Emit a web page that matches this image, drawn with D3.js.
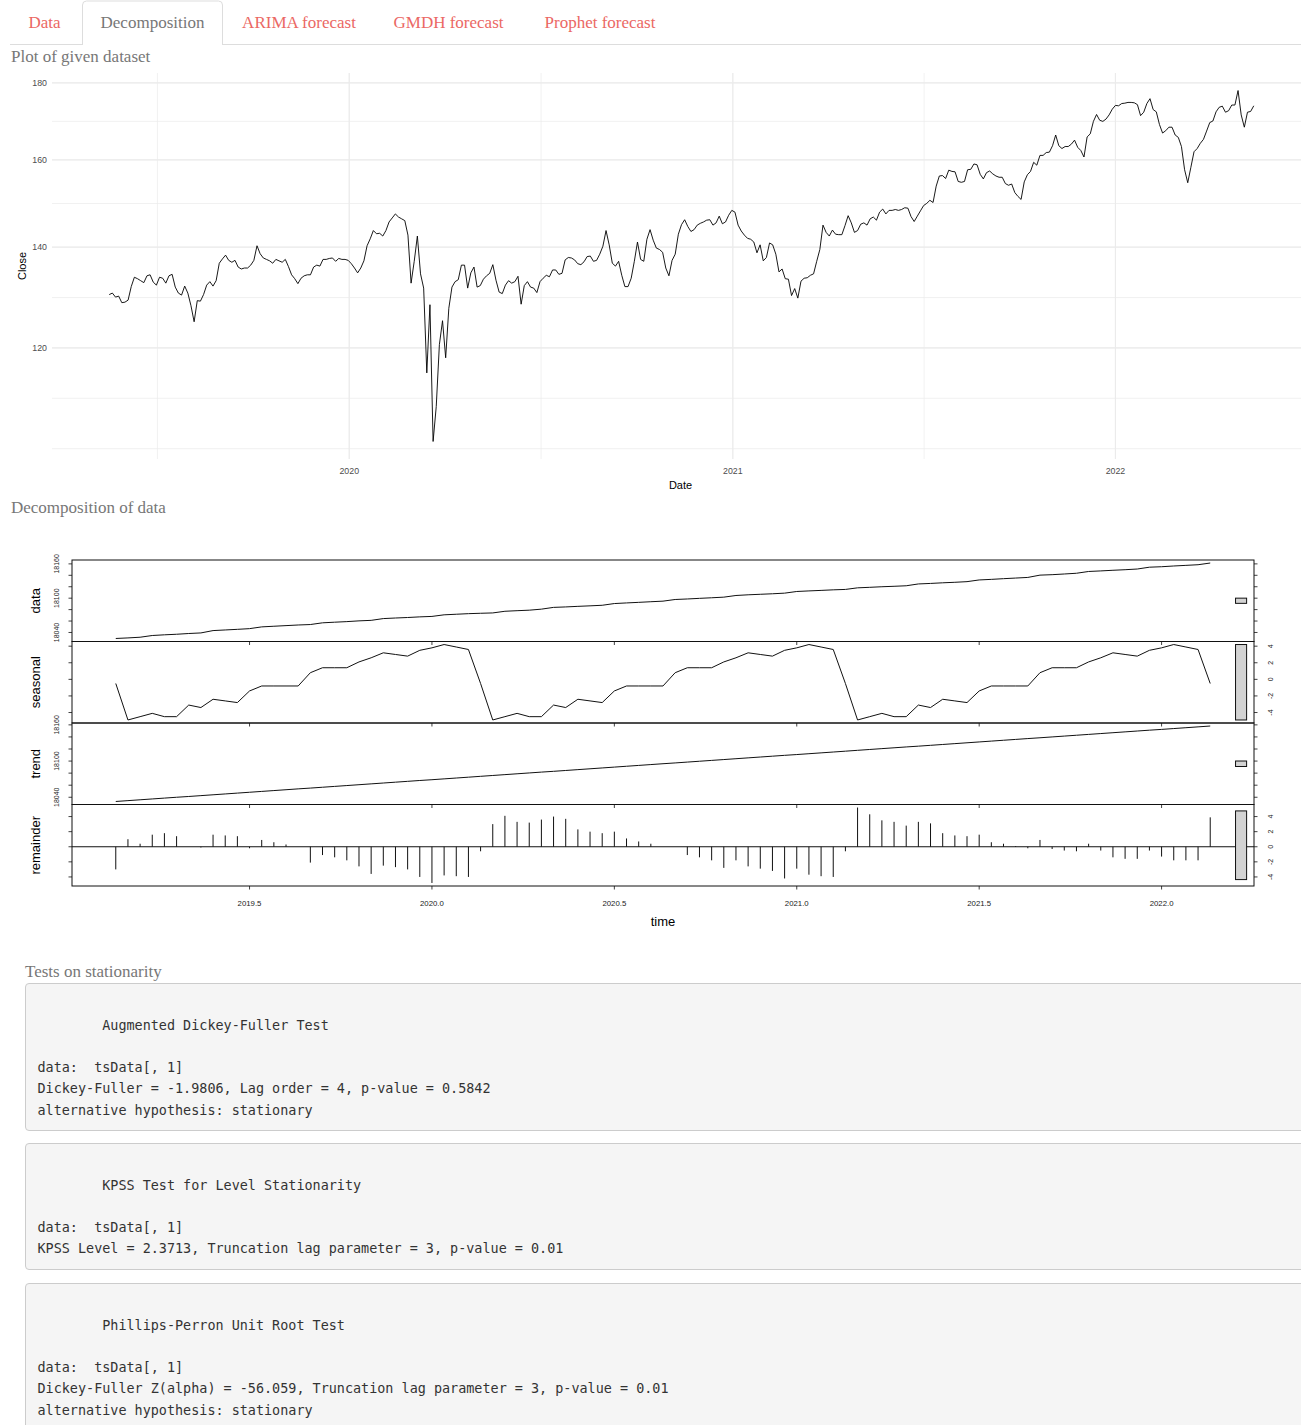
<!DOCTYPE html>
<html>
<head>
<meta charset="utf-8">
<script src="https://cdn.jsdelivr.net/npm/d3@7"></script>
<style>
  html,body{margin:0;padding:0;background:#fff;}
  body{width:1301px;height:1425px;overflow:hidden;position:relative;font-family:"Liberation Serif",serif;}
  #page{position:absolute;left:0;top:0;}
  pre{position:absolute;left:25px;width:1320px;margin:0;box-sizing:border-box;
      background:#f5f5f5;border:1px solid #cccccc;border-radius:4px;
      padding:9.5px 11.5px;font-family:"DejaVu Sans Mono",monospace;font-size:13.45px;
      line-height:21.2px;color:#333;white-space:pre;overflow:hidden;}
</style>
</head>
<body>
<svg id="page" width="1301" height="1425"></svg>
<pre id="pre1" style="top:983px"></pre>
<pre id="pre2" style="top:1143px"></pre>
<pre id="pre3" style="top:1283px"></pre>
<script>
// ---------------- DATA ----------------
const tabLabels = ["Data", "Decomposition", "ARIMA forecast", "GMDH forecast", "Prophet forecast"];
const activeTab = "Decomposition";
const headings = ["Plot of given dataset", "Decomposition of data", "Tests on stationarity"];

// daily close, sampled every 3 calendar days from the start date
const closeStart = "2019-05-17";
const closeStepDays = 3;
const closeValues = [
130.2,130.5,129.7,129.9,128.6,128.7,129.1,131.8,133.7,133.4,
133.0,132.6,134.0,134.2,132.7,132.1,133.7,133.5,132.5,134.0,
134.3,131.7,130.5,130.1,131.9,130.5,128.0,124.9,129.0,128.9,
130.2,132.1,132.8,131.9,133.0,136.6,137.5,138.3,137.2,136.8,
137.2,135.8,135.4,135.6,135.6,136.2,137.2,140.3,138.6,137.7,
137.4,137.1,136.6,137.4,137.1,136.8,137.4,135.9,134.2,133.4,
132.4,133.5,134.0,134.2,134.2,135.8,136.2,136.0,137.4,137.4,
137.6,137.7,137.0,137.6,137.4,137.4,137.2,136.5,135.6,134.6,
135.6,137.1,140.3,141.8,143.6,142.9,143.0,142.4,143.6,145.5,
146.4,147.3,146.6,146.2,145.8,142.6,132.5,137.0,142.4,134.4,
131.5,115.5,128.2,104.0,109.7,120.6,125.1,118.2,127.5,131.7,
132.8,133.2,136.2,136.2,131.5,134.6,135.8,131.7,132.0,133.3,
134.0,134.5,136.3,133.1,130.7,130.4,132.1,133.0,132.5,132.8,
133.9,128.3,132.0,132.8,131.7,131.5,130.6,132.8,133.5,134.1,
133.8,135.2,135.2,134.3,134.5,137.3,137.8,137.7,137.3,136.5,
136.3,136.9,138.0,138.1,137.0,137.2,138.5,140.2,143.6,140.5,
136.6,136.0,137.0,134.1,131.8,131.8,133.5,137.0,141.1,137.4,
137.0,141.7,143.8,141.5,139.8,139.5,138.9,135.6,134.0,137.2,
138.5,142.8,144.9,146.0,144.5,143.4,143.8,144.8,145.2,145.5,
145.9,146.0,144.8,145.3,146.8,145.1,145.5,147.0,148.1,147.7,
144.8,143.5,142.6,141.9,141.7,141.1,138.8,140.5,137.1,137.8,
140.9,140.5,138.5,134.8,135.4,133.4,133.3,130.0,131.4,129.5,
132.9,133.5,133.6,134.1,134.4,137.0,139.5,144.8,143.2,142.4,
143.7,142.8,142.7,142.7,144.7,146.9,145.3,143.2,143.6,145.0,
145.3,144.8,146.2,146.6,145.9,147.7,148.4,147.3,148.1,148.1,
148.3,148.1,148.3,148.7,148.6,146.7,145.6,146.8,148.0,149.2,
149.7,150.4,149.9,153.7,156.1,156.2,155.5,157.5,157.2,157.1,
154.8,154.6,154.8,157.6,157.7,159.0,158.8,156.5,155.4,156.9,
157.3,156.6,156.1,155.8,155.8,154.3,153.9,154.2,152.2,151.3,
150.6,154.7,156.4,157.2,159.4,158.7,161.1,161.1,161.8,161.9,
163.5,166.2,163.5,162.8,163.3,163.3,163.9,164.9,163.1,162.3,
160.7,165.7,166.5,169.7,171.5,170.0,169.7,170.3,171.4,172.9,
173.9,173.8,174.4,174.5,174.7,174.7,174.6,174.1,171.2,172.1,
174.4,175.7,172.8,172.2,168.9,166.7,167.3,168.2,168.2,166.2,
165.6,163.3,157.6,154.5,158.2,162.0,162.8,164.1,165.1,167.2,
169.4,169.8,172.2,173.4,173.7,172.1,172.5,174.0,174.0,177.9,
171.4,168.2,172.1,172.3,173.8
];
const closeYTicks = [120, 140, 160, 180];
const closeXTicks = ["2020-01-01", "2021-01-01", "2022-01-01"];
const closeXLabels = ["2020", "2021", "2022"];

// STL decomposition (frequency 30, start = (2019, 5))
const stlFrequency = 30;
const stlStartYear = 2019;
const stlStartCycle = 5;
const stlData = [
18029.5,18030.5,18031.7,18034.7,18035.9,18036.9,18038.2,18039.2,18043.3,18044.4,
18045.5,18046.7,18049.8,18050.9,18052.0,18053.1,18053.9,18056.9,18058.0,18059.0,
18060.3,18061.2,18064.3,18065.3,18066.2,18067.3,18068.1,18070.9,18071.9,18072.9,
18073.6,18074.2,18077.1,18078.1,18079.0,18080.8,18083.9,18084.7,18085.7,18086.6,
18087.6,18090.6,18091.7,18092.7,18093.8,18094.8,18097.7,18098.6,18099.7,18100.7,
18101.8,18104.7,18105.9,18106.8,18107.7,18108.8,18111.7,18112.7,18113.6,18114.6,
18115.3,18118.1,18119.0,18120.0,18120.8,18121.7,18124.9,18125.8,18126.9,18127.8,
18128.9,18131.9,18132.9,18134.1,18135.2,18136.3,18140.3,18141.1,18142.3,18143.6,
18146.7,18147.7,18148.8,18149.8,18151.0,18154.2,18155.0,18156.3,18157.4,18158.5,
18161.5
];
const stlSeasonal = [
-0.5,-4.9,-4.5,-4.1,-4.5,-4.5,-3.1,-3.4,-2.4,-2.6,-2.8,-1.4,-0.8,-0.8,-0.8,-0.8,0.8,1.4,1.4,1.4,2.1,2.6,3.2,3.0,2.8,3.5,3.8,4.2,3.9,3.6,
-0.5,-4.9,-4.5,-4.1,-4.5,-4.5,-3.1,-3.4,-2.4,-2.6,-2.8,-1.4,-0.8,-0.8,-0.8,-0.8,0.8,1.4,1.4,1.4,2.1,2.6,3.2,3.0,2.8,3.5,3.8,4.2,3.9,3.6,
-0.5,-4.9,-4.5,-4.1,-4.5,-4.5,-3.1,-3.4,-2.4,-2.6,-2.8,-1.4,-0.8,-0.8,-0.8,-0.8,0.8,1.4,1.4,1.4,2.1,2.6,3.2,3.0,2.8,3.5,3.8,4.2,3.9,3.6,
-0.5
];
const stlTrend = [
18033.0,18034.4,18035.8,18037.2,18038.6,18040.0,18041.3,18042.7,18044.1,18045.5,
18046.9,18048.3,18049.7,18051.1,18052.5,18053.9,18055.2,18056.6,18058.0,18059.4,
18060.8,18062.2,18063.6,18065.0,18066.4,18067.8,18069.1,18070.5,18071.9,18073.3,
18074.7,18076.1,18077.5,18078.9,18080.3,18081.7,18083.0,18084.4,18085.8,18087.2,
18088.6,18090.0,18091.4,18092.8,18094.2,18095.6,18096.9,18098.3,18099.7,18101.1,
18102.5,18103.9,18105.3,18106.7,18108.1,18109.5,18110.8,18112.2,18113.6,18115.0,
18116.4,18117.8,18119.2,18120.6,18122.0,18123.4,18124.7,18126.1,18127.5,18128.9,
18130.3,18131.7,18133.1,18134.5,18135.9,18137.3,18138.6,18140.0,18141.4,18142.8,
18144.2,18145.6,18147.0,18148.4,18149.8,18151.2,18152.5,18153.9,18155.3,18156.7,
18158.1
];
const stlRemainder = [
-3.0,1.0,0.4,1.6,1.8,1.4,0.0,-0.1,1.6,1.5,
1.4,-0.2,0.9,0.6,0.3,0.0,-2.1,-1.1,-1.4,-1.8,
-2.6,-3.6,-2.5,-2.7,-3.0,-4.0,-4.8,-3.8,-3.9,-4.0,
-0.6,3.0,4.1,3.3,3.2,3.6,4.0,3.7,2.3,2.0,
1.8,2.0,1.1,0.7,0.4,0.0,0.0,-1.1,-1.4,-1.8,
-2.8,-1.8,-2.6,-2.9,-3.2,-4.2,-2.9,-3.7,-3.9,-4.0,
-0.6,5.2,4.3,3.5,3.3,2.8,3.3,3.1,1.8,1.5,
1.4,1.6,0.6,0.4,0.1,-0.2,0.9,-0.3,-0.5,-0.6,
0.4,-0.5,-1.4,-1.6,-1.6,-0.5,-1.3,-1.8,-1.8,-1.8,
3.9
];
const stlPanelNames = ["data", "seasonal", "trend", "remainder"];
const stlLevelTicks = [18040, 18060, 18080, 18100, 18120, 18140, 18160];
const stlLevelTickLabels = [18040, 18100, 18160];
const stlSmallTicks = [-4, -2, 0, 2, 4];
const stlTimeTicks = [2019.5, 2020.0, 2020.5, 2021.0, 2021.5, 2022.0];

const testOutputs = [
"\n        Augmented Dickey-Fuller Test\n\ndata:  tsData[, 1]\nDickey-Fuller = -1.9806, Lag order = 4, p-value = 0.5842\nalternative hypothesis: stationary",
"\n        KPSS Test for Level Stationarity\n\ndata:  tsData[, 1]\nKPSS Level = 2.3713, Truncation lag parameter = 3, p-value = 0.01",
"\n        Phillips-Perron Unit Root Test\n\ndata:  tsData[, 1]\nDickey-Fuller Z(alpha) = -56.059, Truncation lag parameter = 3, p-value = 0.01\nalternative hypothesis: stationary"
];

// ---------------- PAGE CHROME ----------------
const svg = d3.select("#page");
const serif = '"Liberation Serif", serif';
const sans = '"Liberation Sans", Arial, sans-serif';

// tabs
const tabX = [13, 82.5, 227, 378, 526];
const tabW = [63, 140, 144, 141, 148];
svg.append("line").attr("x1", 10).attr("x2", 1301).attr("y1", 44.5).attr("y2", 44.5)
  .attr("stroke", "#dddddd").attr("stroke-width", 1);
tabLabels.forEach((t, i) => {
  const isActive = t === activeTab;
  if (isActive) {
    const x0 = tabX[i], x1 = tabX[i] + tabW[i], r = 4;
    svg.append("path")
      .attr("d", `M${x0},45 L${x0},${1 + r} Q${x0},1 ${x0 + r},1 L${x1 - r},1 Q${x1},1 ${x1},${1 + r} L${x1},45`)
      .attr("fill", "#fff").attr("stroke", "#dddddd").attr("stroke-width", 1);
    svg.append("rect").attr("x", x0 + 0.5).attr("y", 43).attr("width", tabW[i] - 1).attr("height", 3).attr("fill", "#fff");
  }
  svg.append("text").attr("x", tabX[i] + tabW[i] / 2).attr("y", 28).attr("text-anchor", "middle")
    .attr("font-family", serif).attr("font-size", 17)
    .attr("fill", isActive ? "#777777" : "#eb6864").text(t);
});

// headings
const headingPos = [[11, 62], [11, 513], [25, 977]];
headings.forEach((h, i) => {
  svg.append("text").attr("x", headingPos[i][0]).attr("y", headingPos[i][1])
    .attr("font-family", serif).attr("font-size", 17).attr("fill", "#777777").text(h);
});

// ---------------- TOP CHART (ggplot-like, log y) ----------------
const parse = d3.utcParse("%Y-%m-%d");
const t0 = parse(closeStart);
const closeData = closeValues.map((v, i) => ({ date: d3.utcDay.offset(t0, i * closeStepDays), value: v }));
const tExt = d3.extent(closeData, d => d.date);
const tSpan = tExt[1] - tExt[0];
const pLeft = 52, pRight = 1311, pTop = 73, pBottom = 459;
const x = d3.scaleUtc()
  .domain([new Date(+tExt[0] - 0.05 * tSpan), new Date(+tExt[1] + 0.05 * tSpan)])
  .range([pLeft, pRight]);
const vExt = d3.extent(closeValues);
const lr = Math.log(vExt[1] / vExt[0]);
const y = d3.scaleLog()
  .domain([vExt[0] * Math.exp(-0.05 * lr), vExt[1] * Math.exp(0.05 * lr)])
  .range([pBottom, pTop]);

const gTop = svg.append("g");
// minor y breaks (midpoints in log space, with one extended break each side)
const lm = closeYTicks.map(Math.log);
const stepLo = lm[1] - lm[0], stepHi = lm[lm.length - 1] - lm[lm.length - 2];
const lext = [lm[0] - stepLo, ...lm, lm[lm.length - 1] + stepHi];
let yMinor = [];
for (let i = 0; i < lext.length - 1; i++) { yMinor.push(lext[i], (lext[i] + lext[i + 1]) / 2); }
yMinor = yMinor.map(Math.exp).filter(v => v >= y.domain()[0] && v <= y.domain()[1]);
// minor x breaks
const xm = closeXTicks.map(s => +parse(s));
const xext = [xm[0] - (xm[1] - xm[0]), ...xm, xm[xm.length - 1] + (xm[xm.length - 1] - xm[xm.length - 2])];
let xMinor = [];
for (let i = 0; i < xext.length - 1; i++) { xMinor.push(xext[i], (xext[i] + xext[i + 1]) / 2); }
xMinor = xMinor.filter(v => v >= +x.domain()[0] && v <= +x.domain()[1]);

const gridCol = "#ebebeb";
gTop.selectAll(".ymin").data(yMinor).join("line")
  .attr("x1", pLeft).attr("x2", pRight).attr("y1", d => y(d)).attr("y2", d => y(d))
  .attr("stroke", gridCol).attr("stroke-width", 0.7);
gTop.selectAll(".xmin").data(xMinor).join("line")
  .attr("x1", d => x(new Date(d))).attr("x2", d => x(new Date(d))).attr("y1", pTop).attr("y2", pBottom)
  .attr("stroke", gridCol).attr("stroke-width", 0.7);
gTop.selectAll(".ymaj").data(closeYTicks).join("line")
  .attr("x1", pLeft).attr("x2", pRight).attr("y1", d => y(d)).attr("y2", d => y(d))
  .attr("stroke", gridCol).attr("stroke-width", 1.1);
gTop.selectAll(".xmaj").data(xm).join("line")
  .attr("x1", d => x(new Date(d))).attr("x2", d => x(new Date(d))).attr("y1", pTop).attr("y2", pBottom)
  .attr("stroke", gridCol).attr("stroke-width", 1.1);

gTop.append("path").datum(closeData)
  .attr("d", d3.line().x(d => x(d.date)).y(d => y(d.value)))
  .attr("fill", "none").attr("stroke", "#000").attr("stroke-width", 0.9).attr("stroke-linejoin", "round");

gTop.selectAll(".ylab").data(closeYTicks).join("text")
  .attr("x", 47).attr("y", d => y(d) + 3).attr("text-anchor", "end")
  .attr("font-family", sans).attr("font-size", 8.8).attr("fill", "#4d4d4d").text(d => d);
gTop.selectAll(".xlab").data(xm).join("text")
  .attr("x", d => x(new Date(d))).attr("y", 473.5).attr("text-anchor", "middle")
  .attr("font-family", sans).attr("font-size", 8.8).attr("fill", "#4d4d4d").text((d, i) => closeXLabels[i]);
gTop.append("text").attr("x", (pLeft + pRight) / 2 - 1).attr("y", 489).attr("text-anchor", "middle")
  .attr("font-family", sans).attr("font-size", 11).attr("fill", "#000").text("Date");
gTop.append("text").attr("transform", `translate(26,${(pTop + pBottom) / 2}) rotate(-90)`)
  .attr("text-anchor", "middle").attr("font-family", sans).attr("font-size", 11).attr("fill", "#000").text("Close");

// ---------------- STL PLOT (R base style) ----------------
const stlTime = stlData.map((_, i) => stlStartYear + (stlStartCycle - 1 + i) / stlFrequency);
const expand = ([a, b]) => { const r = b - a; return [a - 0.04 * r, b + 0.04 * r]; };
const L = 72, R = 1254, panelTop = 560, panelH = 81.5;
const tx = d3.scaleLinear().domain(expand(d3.extent(stlTime))).range([L, R]);
const series = [
  { values: stlData, type: "l", ticks: stlLevelTicks, labels: stlLevelTickLabels },
  { values: stlSeasonal, type: "l", ticks: stlSmallTicks, labels: stlSmallTicks },
  { values: stlTrend, type: "l", ticks: stlLevelTicks, labels: stlLevelTickLabels },
  { values: stlRemainder, type: "h", ticks: stlSmallTicks, labels: stlSmallTicks }
];
const mx = d3.min(series, s => d3.max(s.values) - d3.min(s.values));
const gS = svg.append("g");
const ink = "#111";
const tickLen = 3.5;
series.forEach((s, k) => {
  const top = panelTop + k * panelH, bot = top + panelH;
  const ys = d3.scaleLinear().domain(expand(d3.extent(s.values))).range([bot, top]);
  const pts = s.values.map((v, i) => [stlTime[i], v]);
  if (s.type === "l") {
    gS.append("path").datum(pts)
      .attr("d", d3.line().x(d => tx(d[0])).y(d => ys(d[1])))
      .attr("fill", "none").attr("stroke", ink).attr("stroke-width", 1);
  } else {
    gS.selectAll(null).data(pts).join("line")
      .attr("x1", d => tx(d[0])).attr("x2", d => tx(d[0]))
      .attr("y1", ys(0)).attr("y2", d => ys(d[1]))
      .attr("stroke", ink).attr("stroke-width", 1);
    gS.append("line").attr("x1", L).attr("x2", R).attr("y1", ys(0)).attr("y2", ys(0))
      .attr("stroke", ink).attr("stroke-width", 1);
  }
  // range bar
  const u = tx.domain(), dx = (u[1] - u[0]) / 64;
  const mid = (d3.max(s.values) + d3.min(s.values)) / 2;
  gS.append("rect")
    .attr("x", tx(u[1] - dx)).attr("width", tx(u[1] - 0.4 * dx) - tx(u[1] - dx))
    .attr("y", ys(mid + mx / 2)).attr("height", ys(mid - mx / 2) - ys(mid + mx / 2))
    .attr("fill", "#d3d3d3").attr("stroke", ink).attr("stroke-width", 1);
  // box
  gS.append("rect").attr("x", L).attr("y", top).attr("width", R - L).attr("height", panelH)
    .attr("fill", "none").attr("stroke", ink).attr("stroke-width", 1);
  // y axes both sides
  const right = (k + 1) % 2 === 0;
  s.ticks.forEach(t => {
    gS.append("line").attr("x1", L).attr("x2", L - tickLen).attr("y1", ys(t)).attr("y2", ys(t)).attr("stroke", ink).attr("stroke-width", 0.8);
    gS.append("line").attr("x1", R).attr("x2", R + tickLen).attr("y1", ys(t)).attr("y2", ys(t)).attr("stroke", ink).attr("stroke-width", 0.8);
  });
  s.labels.forEach(t => {
    const lx = right ? 1271 : 57;
    gS.append("text").attr("transform", `translate(${lx + 2.4},${ys(t)}) rotate(-90)`)
      .attr("text-anchor", "middle").attr("font-family", sans).attr("font-size", 7)
      .attr("fill", "#222").text(t);
  });
  // x ticks at bottom of every panel
  stlTimeTicks.forEach(t => {
    gS.append("line").attr("x1", tx(t)).attr("x2", tx(t)).attr("y1", bot).attr("y2", bot + tickLen)
      .attr("stroke", ink).attr("stroke-width", 0.8);
  });
  // panel label
  gS.append("text").attr("transform", `translate(${39.5},${(top + bot) / 2}) rotate(-90)`)
    .attr("text-anchor", "middle").attr("font-family", sans).attr("font-size", 13)
    .attr("fill", "#000").text(stlPanelNames[k]);
});
stlTimeTicks.forEach(t => {
  gS.append("text").attr("x", tx(t)).attr("y", 906).attr("text-anchor", "middle")
    .attr("font-family", sans).attr("font-size", 7.8).attr("fill", "#222").text(t.toFixed(1));
});
gS.append("text").attr("x", (L + R) / 2).attr("y", 925.5).attr("text-anchor", "middle")
  .attr("font-family", sans).attr("font-size", 13).attr("fill", "#000").text("time");

// ---------------- TEST OUTPUT ----------------
["#pre1", "#pre2", "#pre3"].forEach((id, i) => d3.select(id).text(testOutputs[i]));
</script>
</body>
</html>
